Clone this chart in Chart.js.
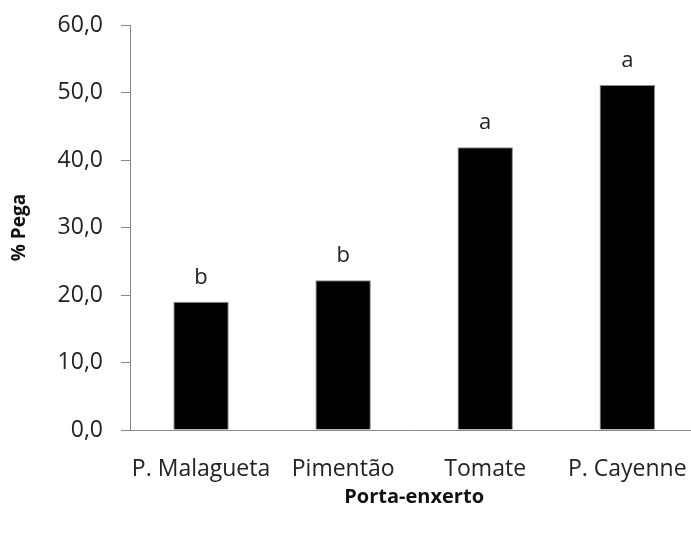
<!DOCTYPE html>
<html>
<head>
<meta charset="utf-8">
<script src="https://cdn.jsdelivr.net/npm/chart.js@4/dist/chart.umd.min.js"></script>
<style>
  html, body { margin: 0; padding: 0; background: #fff; overflow: hidden; }
  #pegaChart { display: block; }
</style>
</head>
<body>
<canvas id="pegaChart" width="705" height="534"></canvas>
<script>
const categories = ['P. Malagueta', 'Pimentão', 'Tomate', 'P. Cayenne'];
const pega = [19.0, 22.2, 41.9, 51.1];
const letters = ['b', 'b', 'a', 'a'];
const yTicks = [0, 10, 20, 30, 40, 50, 60];

const FONT = "'Open Sans', sans-serif";

// letters above each bar
const letterPlugin = {
  id: 'letters',
  afterDatasetsDraw(chart) {
    const ctx = chart.ctx;
    const meta = chart.getDatasetMeta(0);
    ctx.save();
    ctx.font = '22px ' + FONT;
    ctx.fillStyle = '#222';
    ctx.textAlign = 'center';
    ctx.textBaseline = 'alphabetic';
    meta.data.forEach((bar, i) => {
      ctx.fillText(letters[i], bar.x, bar.y - 18);
    });
    ctx.restore();
  }
};

const config = {
  type: 'bar',
  data: {
    labels: categories,
    datasets: [{
      data: pega,
      backgroundColor: '#000',
      borderColor: '#888',
      borderWidth: 1,
      categoryPercentage: 1.0,
      barPercentage: 0.39
    }]
  },
  options: {
    responsive: false,
    animation: false,
    layout: { padding: { top: 25, right: 3, bottom: 25, left: 8 } },
    plugins: {
      legend: { display: false },
      tooltip: { enabled: false }
    },
    scales: {
      x: {
        afterFit: (scale) => { scale.height = 79; },
        grid: { display: false },
        border: { display: true, color: '#888', width: 1 },
        ticks: { color: '#222', font: { family: FONT, size: 23 }, padding: 18, maxRotation: 0 },
        title: {
          display: true,
          text: 'Porta-enxerto',
          color: '#111',
          font: { family: FONT, size: 20, weight: 'bold' },
          padding: 0
        }
      },
      y: {
        min: 0,
        max: 60,
        afterFit: (scale) => {
          scale.width = 122;
          scale.paddingTop = 0;
          scale.paddingBottom = 0;
        },
        afterBuildTicks: (axis) => { axis.ticks = yTicks.map(v => ({ value: v })); },
        grid: { drawOnChartArea: false, drawTicks: true, tickLength: 9, color: '#888' },
        border: { display: true, color: '#888', width: 1 },
        ticks: {
          color: '#222',
          font: { family: FONT, size: 23 },
          padding: 18,
          callback: (v) => v.toFixed(1).replace('.', ',')
        },
        title: {
          display: true,
          text: '% Pega',
          color: '#111',
          font: { family: FONT, size: 19, weight: 'bold' },
          padding: 0
        }
      }
    }
  },
  plugins: [letterPlugin]
};

var pegaChart = new Chart(document.getElementById('pegaChart'), config);
</script>
</body>
</html>
